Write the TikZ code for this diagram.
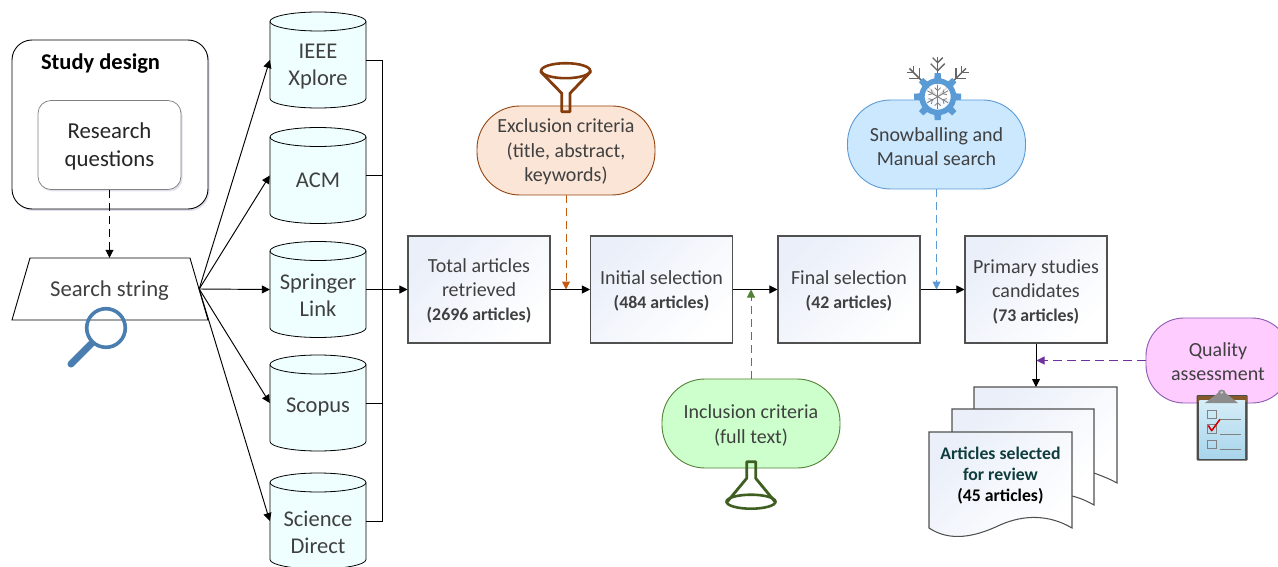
\documentclass[tikz,border=0pt]{standalone}
\usepackage{fontspec}
\setmainfont{Carlito}
\usetikzlibrary{arrows.meta,shadows}
\definecolor{txt}{HTML}{404040}
\definecolor{edgegray}{HTML}{505050}
\definecolor{cylfill}{HTML}{EFFFFF}
\definecolor{boxtint}{HTML}{EAEFF9}
\definecolor{orangeln}{HTML}{C55A11}
\definecolor{greenln}{HTML}{548235}
\definecolor{blueln}{HTML}{5B9BD5}
\definecolor{purpleln}{HTML}{7030A0}
\definecolor{iconblue}{HTML}{4A7EB0}
\definecolor{funnelc}{HTML}{843C0C}
\definecolor{flaskc}{HTML}{3F5F20}
\definecolor{exclfill}{HTML}{FBE5D6}
\definecolor{snowfill}{HTML}{CCE8FF}
\definecolor{inclfill}{HTML}{CCFFCC}
\definecolor{qualfill}{HTML}{FFCCFF}
\definecolor{clipa}{HTML}{D5EDF7}
\definecolor{clipb}{HTML}{A8D5EC}
\definecolor{doctxt}{HTML}{0F3D3D}
\tikzset{
  tip/.style={-{Triangle[length=8pt,width=8pt]}},
  conn/.style={line width=.95pt,black},
  softshadow/.style={general shadow={shadow xshift=1.5pt,shadow yshift=-2pt,fill=blue!30!gray,opacity=.18}},
  cylbody/.style={draw=black,line width=.8pt,fill=cylfill},
  cyl/.style={rectangle,minimum width=96pt,minimum height=96pt,inner sep=0pt},
  cyllab/.style={inner sep=0pt,text=txt,align=center,font=\fontsize{22.5}{27}\selectfont},
  stagebox/.style={rectangle,draw=edgegray,line width=1.05pt,minimum width=142pt,minimum height=107pt,
    inner sep=0pt,top color=boxtint,bottom color=white,shading angle=45},
  stagelab/.style={inner sep=0pt,text=txt,align=center,font=\fontsize{20}{24}\selectfont},
  pill/.style={rectangle,rounded corners=43pt,line width=.9pt,minimum width=178pt,minimum height=89pt,inner sep=0pt},
  pilllab/.style={inner sep=0pt,text=txt,align=center,font=\fontsize{20}{24.5}\selectfont},
  docpage/.style={draw=edgegray,line width=1.05pt,top color=boxtint,bottom color=white,shading angle=45}
}
\newcommand{\bcnt}[1]{{\fontsize{17.8}{22}\selectfont\bfseries #1}}
% name, centre y, text, text centre y
\newcommand{\dbcyl}[4]{%
  \path[cylbody] (270,#2-38.5) .. controls (270,#2-43.7) and (291.5,#2-48) .. (318,#2-48)
     .. controls (344.5,#2-48) and (366,#2-43.7) .. (366,#2-38.5) -- (366,#2+38.5)
     .. controls (366,#2+43.7) and (344.5,#2+48) .. (318,#2+48)
     .. controls (291.5,#2+48) and (270,#2+43.7) .. (270,#2+38.5) -- cycle;
  \draw[line width=.8pt,black] (270,#2-38.5) .. controls (270,#2-33.3) and (291.5,#2-29) .. (318,#2-29)
     .. controls (344.5,#2-29) and (366,#2-33.3) .. (366,#2-38.5);
  \node[cyl] (#1) at (318,#2) {};
  \node[cyllab] (#1lbl) at (318,#4) {#3};}
\begin{document}
\begin{tikzpicture}[x=1pt,y=-1pt]
\useasboundingbox (0,0) rectangle (1278,567);
\clip (0,0) rectangle (1278,567);
\fill[white] (0,0) rectangle (1278,567);

% study design
\node[rectangle,draw=black,line width=.9pt,rounded corners=20pt,fill=white,softshadow,
  minimum width=196pt,minimum height=169pt,inner sep=0pt] (study) at (110,124.5) {};
\node[font=\fontsize{22.5}{25}\selectfont\bfseries,text=black,inner sep=0pt] (studylbl) at (100.5,64) {Study design};
\node[rectangle,draw=gray,line width=.7pt,rounded corners=13pt,fill=white,softshadow,
  minimum width=143pt,minimum height=89pt,inner sep=0pt] (rq) at (109.5,145) {};
\node[inner sep=0pt,align=center,text=black!85,font=\fontsize{22.8}{28}\selectfont] (rqlbl) at (109.5,146.5) {Research\\questions};

% search string
\draw[black,line width=.9pt,fill=white] (30,258) -- (190,258) -- (208,320) -- (12,320) -- cycle;
\node[rectangle,minimum width=178pt,minimum height=62pt,inner sep=0pt] (search) at (110,289) {};
\node[inner sep=0pt,text=txt,font=\fontsize{22.7}{25}\selectfont] (searchlbl) at (109.5,291) {Search string};

% magnifier
\draw[iconblue,line width=3.6pt] (106,328) circle (19.3pt);
\draw[iconblue,line width=7pt,line cap=round] (91,344) -- (71,364);

% databases
\dbcyl{c1}{60}{IEEE\\Xplore}{67}
\dbcyl{c2}{175.5}{ACM}{180.5}
\dbcyl{c3}{289.5}{Springer\\Link}{295}
\dbcyl{c4}{403}{Scopus}{407}
\dbcyl{c5}{521}{Science\\Direct}{532.5}

% stages
\node[stagebox] (total) at (479,289.5) {};
\node[stagelab] (totallbl) at (479,291) {Total articles\\retrieved\\\bcnt{(2696 articles)}};
\node[stagebox] (initial) at (661.5,289.5) {};
\node[stagelab] (initiallbl) at (661.5,291) {Initial selection\\\bcnt{(484 articles)}};
\node[stagebox] (final) at (849,289.5) {};
\node[stagelab] (finallbl) at (849,291) {Final selection\\\bcnt{(42 articles)}};
\node[stagebox] (primary) at (1036,289.5) {};
\node[stagelab] (primarylbl) at (1036,291.5) {Primary studies\\candidates\\\bcnt{(73 articles)}};

% pills
\node[pill,draw=orangeln!75!black,fill=exclfill] (excl) at (566,150.5) {};
\node[pilllab] (excllbl) at (566,152) {Exclusion criteria\\(title, abstract,\\keywords)};
\node[pill,draw=blueln,fill=snowfill] (snow) at (936.5,144.5) {};
\node[pilllab] (snowlbl) at (936.5,146.5) {Snowballing and\\Manual search};
\node[pill,draw=greenln,fill=inclfill] (incl) at (751,423.5) {};
\node[pilllab] (incllbl) at (751,425.5) {Inclusion criteria\\(full text)};
\node[pill,draw=purpleln!80!white,fill=qualfill,minimum width=144pt,minimum height=85pt,rounded corners=38pt] (quality) at (1218,360.5) {};
\node[pilllab] (qualitylbl) at (1218,361.5) {Quality\\assessment};

% documents
\draw[docpage] (974,387) -- (1117,387) -- (1117,483) .. controls (1110,479) and (1102,476) .. (1094,473) -- (974,473) -- cycle;
\draw[docpage] (952,409) -- (1094,409) -- (1094,505) .. controls (1087,501) and (1080,498) .. (1072,496) -- (952,496) -- cycle;
\draw[docpage] (929,432) -- (1072,432) -- (1072,528) .. controls (1050,515) and (1025,514) .. (1000,525) .. controls (975,537) and (950,542) .. (929,528) -- cycle;
\node[inner sep=0pt,align=center,font=\fontsize{17.7}{21}\selectfont\bfseries,text=black] (docs) at (1000.5,475.5)
  {\textcolor{doctxt}{Articles selected}\\\textcolor{doctxt}{for review}\\(45 articles)};

% coordinates
\coordinate (bus) at (382,289.5);
\coordinate (ea) at (566,289.5);
\coordinate (ia) at (751,289.5);
\coordinate (sa) at (936.5,289.5);
\coordinate (qa) at (1036.5,360.5);
\coordinate (doctop) at (1036,387);

% connectors
\draw[conn,tip,dash pattern=on 8pt off 5pt] (rq.south) -- (search.north -| rq.south);
\foreach \c in {c1,c2,c3,c4,c5}{\draw[conn,tip] (search.east) -- (\c.west);}
\draw[conn] (c1.east) -- (c1.east -| bus) -- (c5.east -| bus) -- (c5.east);
\draw[conn] (c2.east) -- (c2.east -| bus);
\draw[conn] (c4.east) -- (c4.east -| bus);
\draw[conn,tip] (c3.east) -- (total.west);
\draw[conn,tip] (total.east) -- (initial.west);
\draw[conn,tip] (initial.east) -- (final.west);
\draw[conn,tip] (final.east) -- (primary.west);
\draw[conn,tip] (primary.south -| doctop) -- (doctop);
\draw[orangeln,line width=1pt,tip,dash pattern=on 8pt off 5pt] (excl.south) -- (ea);
\draw[greenln,line width=1pt,tip,dash pattern=on 8pt off 5pt] (incl.north) -- (ia);
\draw[blueln,line width=1pt,tip,dash pattern=on 8pt off 5pt] (snow.south) -- (sa);
\draw[purpleln,line width=1pt,tip,dash pattern=on 9pt off 5pt] (quality.west) -- (qa);

% funnel
\draw[funnelc,line width=2.8pt,line join=round,line cap=round]
  (540.7,71.7) -- (561.7,93.3) -- (561.7,111.7) -- (570,111.7) -- (570,93.3) -- (590.7,71.7);
\draw[funnelc,line width=2.6pt] (565.7,70.7) ellipse (24.5pt and 7.5pt);

% flask
\draw[flaskc,line width=2.8pt,line join=round,line cap=round]
  (727.3,501.7) -- (746.7,478.3) -- (746.7,461.7) -- (755.7,461.7) -- (755.7,478.3) -- (775,501.7);
\draw[flaskc,line width=2.6pt] (751,501.7) ellipse (24.5pt and 7pt);

% snowflake and gear
\begin{scope}[shift={(937.7,96.7)}]
  \foreach \a in {0,45,-45}{
    \begin{scope}[rotate=\a]
      \draw[black!60,line width=1.5pt] (0pt,0pt) -- (0pt,40pt);
      \draw[black!60,line width=1.3pt] (-7pt,33pt) -- (0pt,26pt) -- (7pt,33pt);
      \draw[black!60,line width=1.3pt] (-5pt,39pt) -- (0pt,34pt) -- (5pt,39pt);
    \end{scope}}
  \fill[white,opacity=.8] (0pt,0pt) circle (13pt);
  \foreach \a in {0,60,-60,120,-120,180}{
    \begin{scope}[rotate=\a]
      \draw[gray,line width=.9pt] (0pt,0pt) -- (0pt,12pt);
      \draw[gray,line width=.8pt] (-3pt,9pt) -- (0pt,6pt) -- (3pt,9pt);
    \end{scope}}
  \draw[blueln,line width=5.5pt] (0pt,0pt) circle (15.8pt);
  \foreach \a in {0,45,...,315}{
    \begin{scope}[rotate=\a]
      \fill[blueln] (-3.6pt,15pt) -- (3.6pt,15pt) -- (3pt,23.5pt) -- (-3pt,23.5pt) -- cycle;
    \end{scope}}
\end{scope}

% clipboard
\fill[black!70,rounded corners=1pt] (1196.7,395) rectangle (1247.7,460.7);
\fill[brown!70!black] (1198,396) rectangle (1246.5,402);
\shade[top color=clipa,bottom color=clipb] (1199.3,400.7) rectangle (1245,458.3);
\fill[gray!90] (1221.7,393.5) circle (4pt);
\fill[gray!90] (1218,393) -- (1225.5,393) -- (1238,403) -- (1205,403) -- cycle;
\fill[gray!35] (1221.7,392.5) circle (1.3pt);
\draw[gray,line width=.8pt] (1207.3,410) rectangle (1216,418.3);
\draw[gray,line width=.8pt] (1207.3,424.5) rectangle (1216,433.3);
\draw[gray,line width=.8pt] (1207.3,440) rectangle (1216,448.3);
\draw[gray,line width=.8pt] (1220,419) -- (1240.7,419);
\draw[gray,line width=.8pt] (1220,434) -- (1240.7,434);
\draw[gray,line width=.8pt] (1220,449) -- (1240.7,449);
\draw[red!85!black,line width=1.6pt,line join=round] (1208.3,425.5) -- (1211.7,430.7) -- (1220,419.3);
\end{tikzpicture}
\end{document}
